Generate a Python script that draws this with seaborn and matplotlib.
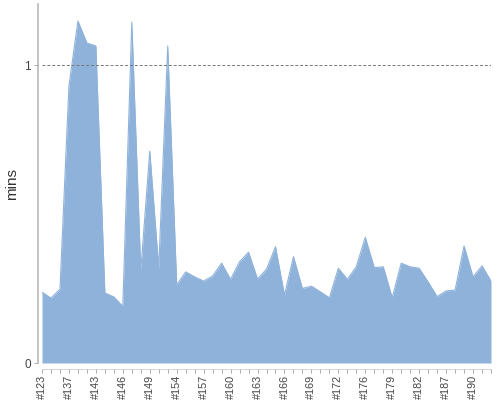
import numpy as np
import pandas as pd
import seaborn as sns
import matplotlib.pyplot as plt

# build ids (only every third one is labelled on the axis)
builds = ['#123', '#128', '#133', '#137', '#139', '#141', '#143', '#144', '#145',
          '#146', '#147', '#148', '#149', '#151', '#152', '#154', '#155', '#156',
          '#157', '#158', '#159', '#160', '#161', '#162', '#163', '#164', '#165',
          '#166', '#167', '#168', '#169', '#170', '#171', '#172', '#173', '#175',
          '#176', '#177', '#178', '#179', '#180', '#181', '#182', '#184', '#185',
          '#187', '#188', '#189', '#190', '#191', '#192']

# build duration in minutes
mins = [0.238, 0.218, 0.248, 0.93, 1.148, 1.074, 1.064, 0.235, 0.222, 0.19,
        1.144, 0.31, 0.711, 0.318, 1.064, 0.262, 0.306, 0.289, 0.275, 0.292,
        0.335, 0.281, 0.34, 0.372, 0.282, 0.315, 0.39, 0.228, 0.357, 0.25,
        0.258, 0.239, 0.219, 0.318, 0.281, 0.323, 0.422, 0.32, 0.323, 0.219,
        0.335, 0.323, 0.318, 0.272, 0.223, 0.242, 0.245, 0.393, 0.289, 0.326,
        0.275]

df = pd.DataFrame({'build': builds, 'mins': mins})
df['pos'] = np.arange(len(df))

sns.set_theme(style='white')
plt.rcParams['font.family'] = ['Liberation Sans', 'DejaVu Sans']

fill = '#8fb2db'
fig = plt.figure(figsize=(5, 4), dpi=100)
ax = fig.add_axes([0.084, 0.0925, 0.898, 0.8975])

ax.fill_between(df['pos'], 0, df['mins'], color=fill, linewidth=0)
sns.lineplot(data=df, x='pos', y='mins', color=fill, linewidth=0.8, ax=ax)
ax.axhline(1, color='#777777', linestyle=(0, (3, 2)), linewidth=0.7)

ax.set_xlim(0, len(df) - 1)
ax.set_ylim(0, 1.205)
ax.set_yticks([0, 1])
ax.set_yticklabels(['0', '1'])
ax.set_xticks(df['pos'])
ax.set_xticklabels([b if i % 3 == 0 else '' for i, b in enumerate(builds)])
ax.set_xlabel('')
ax.set_ylabel('mins', fontsize=11, color='#333333', labelpad=4)

for side in ['top', 'right']:
    ax.spines[side].set_visible(False)
ax.spines['left'].set_color('#bbbbbb')
ax.spines['left'].set_position(('outward', 3))
ax.spines['bottom'].set_color('#cccccc')
ax.spines['bottom'].set_position(('outward', 4))
ax.spines['bottom'].set_linewidth(0.6)
ax.tick_params(axis='both', length=3, width=0.7, color='#aaaaaa',
               labelsize=8.5, labelcolor='#444444', pad=2,
               left=True, bottom=True)
ax.tick_params(axis='x', labelrotation=90, labelsize=7.8, pad=1.5)

fig.savefig('out.png', dpi=100)
